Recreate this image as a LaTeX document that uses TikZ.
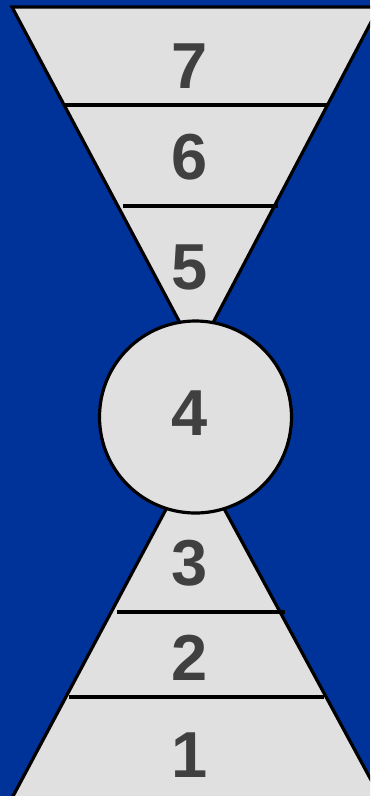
\documentclass[tikz,border=0pt]{standalone}
\usepackage{fontspec}
\setmainfont{Liberation Sans}
\definecolor{bgblue}{RGB}{0,51,153}
\definecolor{panel}{RGB}{224,224,224}
\definecolor{digit}{RGB}{64,64,64}
\begin{document}
\begin{tikzpicture}[x=1pt,y=-1pt,
  shapeline/.style={draw=black,line width=3.2pt,fill=panel,line join=miter},
  divider/.style={draw=black,line width=3.2pt},
  num/.style={text=digit,font=\fontsize{65}{65}\selectfont\bfseries,inner sep=0pt}]
\useasboundingbox (0,0) rectangle (370,796);
\clip (0,0) rectangle (370,796);
\fill[bgblue] (0,0) rectangle (370,796);
% top funnel
\draw[shapeline] (12,7) -- (379,7) -- (196.6,354) -- cycle;
\draw[divider] (65,105) -- (328,105);
\draw[divider] (123,206) -- (278,206);
% bottom pyramid
\draw[shapeline] (9.9,802) -- (195,455) -- (383,802) -- cycle;
\draw[divider] (117,612) -- (285,612);
\draw[divider] (69,697) -- (324,697);
% centre circle
\node[circle,shapeline,minimum size=192pt,inner sep=0pt] (c4) at (195.5,417) {};
% labels
\node[num] (n7) at (190,66) {7};
\node[num] (n6) at (190,157) {6};
\node[num] (n5) at (190,267) {5};
\node[num] (n4) at (190,413) {4};
\node[num] (n3) at (190,563) {3};
\node[num] (n2) at (190,658) {2};
\node[num] (n1) at (190,755) {1};
\end{tikzpicture}
\end{document}
